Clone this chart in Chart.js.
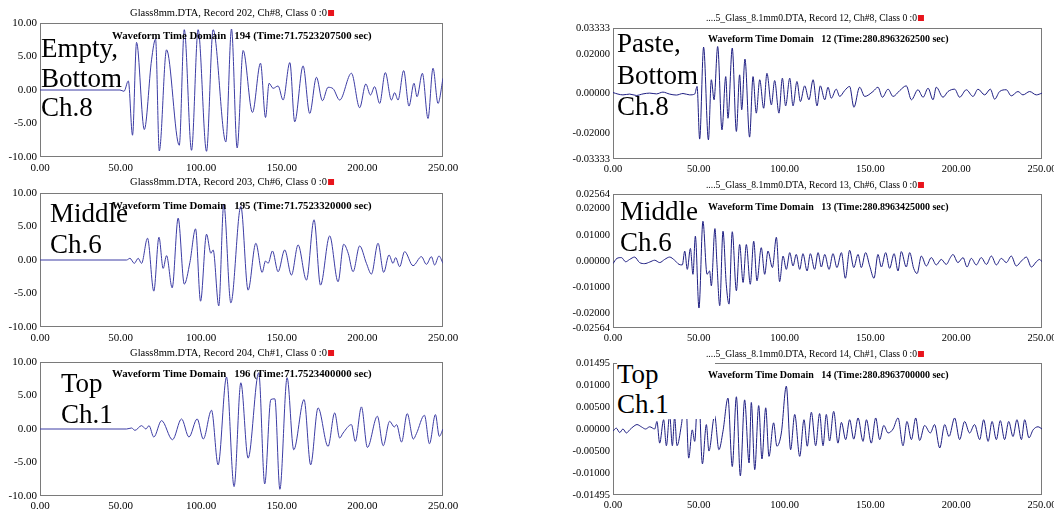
<!DOCTYPE html>
<html>
<head>
<meta charset="utf-8">
<script src="https://cdn.jsdelivr.net/npm/chart.js@4.4.1/dist/chart.umd.min.js"></script>
<style>
body{margin:0;background:#fff;width:1054px;height:512px;overflow:hidden;position:relative;font-family:"Liberation Serif","Times New Roman",serif;color:#000}
.cv{position:absolute}
.ttl{position:absolute;font-size:11px;line-height:12px;white-space:nowrap;transform:translateX(-50%)}
.ttl span{display:inline-block;width:6px;height:6px;background:#e8141c;margin-left:1px;vertical-align:0px}
.wf{position:absolute;font-weight:bold;font-size:10.5px;line-height:12px;white-space:pre}
.big{position:absolute;font-size:27px;white-space:nowrap}
</style>
</head>
<body>
<script>
// x ticks (time) shared by all six panels
var xTicks = [0, 50, 100, 150, 200, 250];
var yTicksL = [-10, -5, 0, 5, 10];
var yTicks4 = [-0.03333, -0.02, 0, 0.02, 0.03333];
var yTicks5 = [-0.02564, -0.02, -0.01, 0, 0.01, 0.02, 0.02564];
var yTicks6 = [-0.01495, -0.01, -0.005, 0, 0.005, 0.01, 0.01495];

var titles = [
  "Glass8mm.DTA, Record 202, Ch#8, Class 0 :0",
  "Glass8mm.DTA, Record 203, Ch#6, Class 0 :0",
  "Glass8mm.DTA, Record 204, Ch#1, Class 0 :0",
  "....5_Glass_8.1mm0.DTA, Record 12, Ch#8, Class 0 :0",
  "....5_Glass_8.1mm0.DTA, Record 13, Ch#6, Class 0 :0",
  "....5_Glass_8.1mm0.DTA, Record 14, Ch#1, Class 0 :0"
];
var domains = [
  "Waveform Time Domain   194 (Time:71.7523207500 sec)",
  "Waveform Time Domain   195 (Time:71.7523320000 sec)",
  "Waveform Time Domain   196 (Time:71.7523400000 sec)",
  "Waveform Time Domain   12 (Time:280.8963262500 sec)",
  "Waveform Time Domain   13 (Time:280.8963425000 sec)",
  "Waveform Time Domain   14 (Time:280.8963700000 sec)"
];
var labels = [
  ["Empty,", "Bottom", "Ch.8"],
  ["Middle", "Ch.6"],
  ["Top", "Ch.1"],
  ["Paste,", "Bottom", "Ch.8"],
  ["Middle", "Ch.6"],
  ["Top", "Ch.1"]
];

// waveforms, [time, amplitude]
var wave1 = [[0,0],[49.6,0],[52.1,-0.2],[54.8,1.35],[57.4,-6.75],[59.9,7.1],[64.7,-5.9],[69.2,4.5],[71.7,7.6],[74.0,-9.1],[78.5,6.0],[86.4,-8.25],[89.5,9.0],[94.0,-9.0],[98.1,9.0],[103.3,-9.15],[107.4,9.0],[115.3,-7.75],[118.8,9.1],[122.3,-8.65],[126.0,5.9],[131.8,-3.35],[136.8,4.0],[139.9,-4.1],[142.1,1.0],[144.6,0.25],[147.7,0.6],[150.8,-1.5],[155.0,4.1],[158.0,-4.75],[163.2,3.6],[167.3,-3.5],[171.5,1.9],[175.2,-1.6],[178.7,0.4],[181.8,0.2],[185.9,-1.5],[193.2,2.5],[198.3,-2.65],[202.1,0.9],[205.0,-0.75],[207.6,0.5],[210.7,-2.0],[214.2,2.6],[218.0,-1.5],[220.0,-0.4],[222.1,-1.5],[225.6,2.9],[228.9,-2.4],[232.0,1.0],[233.9,-1.0],[237.2,2.5],[240.7,-4.25],[243.8,3.25],[246.9,-2.0],[250,1.75]];

var wave2 = [[0,0],[53.7,0],[55.8,0.25],[58.5,-0.5],[60.9,0.25],[63.0,-0.5],[66.7,3.25],[70.6,-4.65],[73.8,3.4],[76.4,-1.25],[78.5,0.65],[82.0,-4.15],[85.7,6.25],[89.5,-3.6],[93.0,-0.35],[96.5,4.65],[99.6,-6.15],[103.3,3.85],[106.0,1.0],[107.4,1.5],[110.9,-6.85],[114.0,8.35],[118.4,-6.4],[124.6,8.0],[129.1,-4.5],[133.9,2.5],[137.8,-1.85],[139.9,-0.15],[141.5,-0.5],[144.2,1.35],[147.7,-1.75],[151.8,1.5],[156.0,-2.25],[160.1,2.25],[165.3,-3.0],[170.0,6.0],[174.0,-3.75],[179.7,3.6],[184.9,-3.25],[188.4,2.35],[191.2,1.0],[194.2,-1.75],[198.3,2.1],[202.5,-0.5],[205.6,-2.1],[209.7,2.5],[213.2,-1.85],[216.5,0.75],[219.0,-0.5],[220.6,0.35],[223.1,-1.0],[226.2,1.25],[231.4,-0.85],[236.6,0.5],[239.7,-0.65],[242.8,0.5],[244.8,-0.75],[247.5,0.6],[250,-0.5]];

var wave3 = [[0,0],[53.7,0],[56.8,0.15],[58.9,-0.2],[63.0,0.5],[65.7,0],[67.6,0.5],[70.6,-1.2],[75.4,1.25],[82.2,-1.6],[87.8,1.5],[92.4,-1.2],[97.5,1.5],[101.3,-1.5],[106.4,2.8],[110.5,-5.35],[115.7,7.75],[120.4,-8.6],[124.6,6.9],[129.1,-4.35],[135.7,8.4],[139.4,-8.2],[143.2,4.4],[145.7,4.5],[148.8,-9.0],[153.3,7.65],[157.4,-3.1],[163.8,4.4],[167.9,-5.35],[172.5,3.15],[178.7,-2.6],[182.8,2.4],[185.9,-1.35],[188.0,-0.6],[193.2,0.65],[195.6,-1.85],[199.4,3.3],[203.1,-2.75],[209.3,1.9],[212.9,-2.5],[216.9,1.15],[219.8,0.3],[221.2,0.65],[224.3,-1.95],[227.8,2.3],[231.6,-1.5],[233.5,-0.7],[238.5,2.05],[241.6,-2.2],[245.3,2.15],[247.7,-1.1],[250,0]];

var wave4 = [[0,0.0005],[2.9,-0.0003],[5.8,-0.0007],[9.7,-0.0003],[13.6,-0.001],[17.5,-0.0002],[21.4,0.0002],[25.3,-0.0002],[29.1,0.0007],[33.0,-0.0003],[36.9,-0.0008],[40.8,0],[44.7,-0.0007],[47.6,-0.0003],[49.0,0.0036],[50.5,-0.0232],[52.8,0.0236],[55.6,-0.0236],[57.3,0.007],[58.9,-0.0032],[61.0,0.0239],[63.5,-0.0185],[65.7,0.0086],[67.0,-0.0126],[69.5,0.0231],[71.9,-0.0193],[73.8,0.0095],[75.0,-0.0083],[76.9,0.0175],[79.6,-0.0222],[81.6,0.0086],[83.5,-0.01],[85.5,0.007],[87.8,-0.0075],[89.7,0.0103],[92.3,-0.0058],[94.2,0.0066],[96.7,-0.01],[98.7,0.0078],[100.6,-0.0063],[103.0,0.0078],[104.9,-0.0063],[107.2,0.0061],[109.2,-0.0041],[111.7,0.0039],[114.2,-0.0032],[116.6,0.007],[118.9,-0.0063],[120.8,0.0039],[123.4,-0.0032],[125.3,0.0032],[127.2,-0.0024],[130.1,0.0022],[132.1,-0.0015],[135.0,0.0015],[137.9,0.0036],[140.4,-0.007],[143.7,0.0032],[146.7,-0.0015],[151.5,0.001],[154.4,0.0032],[157.0,-0.0019],[160.3,0.0022],[163.2,-0.0015],[167.1,0.0015],[170.9,0.0039],[173.9,-0.0032],[177.7,0.0019],[180.7,-0.0019],[183.6,0.0027],[186.5,-0.0032],[188.4,0.0032],[192.3,-0.0019],[195.2,0.001],[199.1,0.0022],[202.0,-0.0019],[205.9,0.0019],[209.8,-0.0015],[212.7,0.0022],[216.6,-0.0007],[219.9,0.0022],[222.4,-0.0029],[225.3,0.001],[229.2,0.0019],[232.1,-0.0012],[236.0,0.001],[238.9,-0.0007],[242.8,0.001],[246.7,-0.0007],[250,0.0002]];

var wave5 = [[0,-0.001],[2.3,0.001],[4.9,0.0013],[7.4,-0.0003],[9.7,0.0006],[12.6,0.0015],[15.5,-0.0006],[18.5,-0.001],[21.4,-0.0004],[24.3,0.0003],[27.2,-0.0006],[30.1,0.0006],[33.0,0.0015],[35.9,0.0003],[38.5,-0.0013],[40.4,-0.0015],[41.8,0.0038],[43.3,-0.0032],[45.1,0.0048],[46.6,-0.0051],[48.0,0.0095],[50.1,-0.018],[52.4,0.0152],[54.8,-0.0051],[56.3,-0.0038],[57.3,-0.0095],[59.4,0.0124],[60.6,-0.0013],[62.2,-0.0171],[64.1,0.0114],[66.0,-0.0089],[67.6,-0.0165],[69.5,0.0112],[71.9,-0.0114],[73.8,0.0063],[75.8,-0.0082],[77.7,0.0063],[80.0,-0.0089],[82.0,0.0076],[83.9,-0.0076],[86.4,0.0051],[88.4,-0.0051],[90.3,0.0038],[92.9,-0.0025],[95.2,0.0091],[97.1,-0.0079],[99.1,0.0019],[101.0,-0.0032],[103.0,0.0032],[104.9,-0.0019],[106.8,0.0025],[108.8,-0.0032],[110.7,0.0028],[113.1,-0.0038],[115.0,0.0028],[117.5,-0.0032],[119.5,0.0032],[121.4,-0.0023],[123.4,0.0025],[125.9,-0.0032],[128.2,0.0028],[130.5,-0.0025],[133.1,0.0032],[135.4,-0.0066],[137.9,0.0041],[140.3,-0.0025],[142.8,0.0025],[144.7,-0.0025],[147.2,0.0032],[149.6,-0.0019],[152.1,-0.0066],[154.4,0.0025],[156.4,-0.0023],[158.9,0.0032],[161.2,-0.0028],[163.8,0.0028],[166.1,-0.0038],[168.0,0.0036],[170.9,-0.0023],[172.9,0.0032],[175.2,-0.0028],[177.2,-0.0048],[179.7,0.0019],[182.6,-0.0019],[185.5,0.0013],[188.4,-0.0015],[191.3,0.0006],[194.2,-0.0013],[196.6,0.0013],[198.1,0.0025],[201.0,-0.0006],[204.0,0.0013],[206.3,-0.0023],[208.8,0.001],[211.7,-0.0015],[214.6,0.0013],[217.6,-0.0013],[220.5,0.0019],[223.4,-0.0015],[226.3,0.001],[229.2,-0.0006],[232.1,0.0019],[235.0,-0.0019],[238.0,0],[240.9,0.0015],[243.8,-0.0023],[246.7,-0.0003],[248.6,0.0006],[250,-0.0003]];

var wave6 = [[0,-0.0005],[1.9,0.0002],[3.9,-0.0008],[5.8,0],[7.8,-0.0009],[9.7,-0.0002],[11.7,0.0005],[14.0,0.001],[16.5,0.0005],[19.0,0],[21.4,0.0005],[24.3,0],[25.6,0.0017],[27.2,-0.0032],[29.5,0.0021],[31.1,-0.0038],[33.0,0.0032],[34.6,-0.0038],[35.9,0.0027],[37.3,-0.0038],[39.8,0.0008],[42.3,0.0079],[44.1,-0.0066],[46.2,-0.0002],[47.6,-0.0028],[49.7,0.0104],[52.1,-0.0079],[54.4,0.001],[55.9,-0.005],[59.2,0.003],[61.7,-0.0047],[64.1,-0.0005],[67.0,0.007],[69.5,-0.0085],[71.9,0.0073],[74.2,-0.0106],[76.7,0.0066],[79.3,-0.0077],[80.6,0.006],[82.6,-0.0092],[84.9,0.0053],[86.8,-0.0068],[89.0,0.0048],[90.9,-0.0062],[93.6,0.0014],[95.5,-0.0039],[98.1,-0.0009],[101.0,0.0097],[103.5,-0.0047],[105.9,0.0033],[108.8,-0.0062],[111.3,0.0021],[113.2,-0.0039],[115.6,0.0038],[118.1,-0.0038],[120.4,0.0035],[122.4,-0.0038],[124.3,0.0033],[126.2,-0.0027],[128.6,0.004],[131.1,-0.0032],[133.1,0.0015],[135.6,-0.0024],[137.9,0.0021],[140.3,-0.0023],[142.8,0.0025],[145.7,-0.0028],[147.7,0.0021],[150.5,-0.0032],[153.1,0.0025],[155.4,-0.0024],[157.8,0.0008],[160.3,-0.0009],[163.2,0],[166.1,0.0025],[169.0,-0.0038],[171.3,0.0017],[173.9,-0.0024],[176.4,0.0025],[178.7,-0.0026],[181.6,0.0008],[184.9,-0.0009],[187.4,0.001],[190.4,-0.0043],[193.3,0.001],[195.8,-0.0017],[199.1,0.0025],[202.0,-0.0024],[204.9,0.0017],[207.8,-0.0009],[210.7,0.001],[213.7,-0.0024],[216.0,0.0021],[218.6,-0.0028],[220.9,0.0017],[223.4,-0.0024],[225.7,0.0019],[228.2,-0.0024],[230.6,0.0017],[233.1,-0.0017],[235.4,0.0021],[238.0,-0.0024],[239.9,0.0021],[242.4,-0.002],[244.8,-0.0002],[247.7,0.0005],[250,0]];

// layout of each panel on the page (plot area box)
var panels = [
  {wave: wave1, ticks: yTicksL, dec: 2, left: 40, right: 443, top: 23, bottom: 157, yW: 40, color: '#3c3ca4', titleX: 232, titleY: 13, tfs: 10.5, wfX: 112, wfY: 35, wfs: 10.8, fs: 11, xpad: 5, lab: {x: 41, y: 34, lh: 29.5}},
  {wave: wave2, ticks: yTicksL, dec: 2, left: 40, right: 443, top: 193, bottom: 327, yW: 40, color: '#3c3ca4', titleX: 232, titleY: 182, tfs: 10.5, wfX: 112, wfY: 205, wfs: 10.8, fs: 11, xpad: 5, lab: {x: 50, y: 198, lh: 31}},
  {wave: wave3, ticks: yTicksL, dec: 2, left: 40, right: 443, top: 362, bottom: 496, yW: 40, color: '#3c3ca4', titleX: 232, titleY: 353, tfs: 10.5, wfX: 112, wfY: 373, wfs: 10.8, fs: 11, xpad: 4, lab: {x: 61, y: 368, lh: 31}},
  {wave: wave4, ticks: yTicks4, dec: 5, left: 613, right: 1042, top: 28, bottom: 159, yW: 53, color: '#1e1e82', titleX: 815, titleY: 18, tfs: 9.6, wfX: 708, wfY: 39, wfs: 10, fs: 10.5, xpad: 4, lab: {x: 617, y: 28, lh: 31.5}},
  {wave: wave5, ticks: yTicks5, dec: 5, left: 613, right: 1042, top: 194, bottom: 328, yW: 53, color: '#1e1e82', titleX: 815, titleY: 185, tfs: 9.6, wfX: 708, wfY: 207, wfs: 10, fs: 10.5, xpad: 4, lab: {x: 620, y: 196, lh: 31}},
  {wave: wave6, ticks: yTicks6, dec: 5, left: 613, right: 1042, top: 363, bottom: 495, yW: 53, color: '#1e1e82', titleX: 815, titleY: 354, tfs: 9.6, wfX: 708, wfY: 375, wfs: 10, fs: 10.5, xpad: 4, lab: {x: 617, y: 359, lh: 30, w: 98}, white: true}
];

var PAD_T = 8, PAD_R = 24, X_H = 20;
var FONT = '"Liberation Serif", "Times New Roman", serif';

var frame = {
  id: 'frame',
  beforeDatasetsDraw: function(c) {
    var a = c.chartArea, ctx = c.ctx;
    ctx.save();
    ctx.strokeStyle = '#7a7a7a';
    ctx.lineWidth = 1;
    ctx.strokeRect(Math.round(a.left) + 0.5, Math.round(a.top) + 0.5, Math.round(a.right - a.left) - 1, Math.round(a.bottom - a.top) - 1);
    ctx.restore();
  }
};

function addDiv(cls, x, y, html, extra) {
  var d = document.createElement('div');
  d.className = cls;
  d.style.left = x + 'px';
  d.style.top = y + 'px';
  d.innerHTML = html;
  if (extra) for (var k in extra) d.style[k] = extra[k];
  document.body.appendChild(d);
  return d;
}

function makePanel(p, i) {
  var cv = document.createElement('canvas');
  var w = p.yW + (p.right - p.left) + PAD_R;
  var h = PAD_T + (p.bottom - p.top) + X_H;
  cv.width = w; cv.height = h;
  cv.className = 'cv';
  cv.style.left = (p.left - p.yW) + 'px';
  cv.style.top = (p.top - PAD_T) + 'px';
  document.body.appendChild(cv);

  var pts = p.wave.map(function(d) { return {x: d[0], y: d[1]}; });
  var yt = p.ticks;

  new Chart(cv.getContext('2d'), {
    type: 'line',
    data: {datasets: [{data: pts, borderColor: p.color, borderWidth: 1, pointRadius: 0, cubicInterpolationMode: 'monotone', fill: false}]},
    options: {
      responsive: false, animation: false, events: [],
      layout: {padding: {top: PAD_T, right: PAD_R, left: 0, bottom: 0}},
      plugins: {legend: {display: false}, tooltip: {enabled: false}},
      scales: {
        x: {
          type: 'linear', min: 0, max: 250,
          grid: {display: false, drawTicks: false}, border: {display: false},
          ticks: {padding: p.xpad, color: '#000', font: {family: FONT, size: p.fs}, maxRotation: 0, autoSkip: false,
            callback: function(v) { return v.toFixed(2); }},
          afterBuildTicks: function(s) { s.ticks = xTicks.map(function(v) { return {value: v}; }); },
          afterFit: function(s) { s.height = X_H; s.paddingLeft = 0; s.paddingRight = 0; }
        },
        y: {
          type: 'linear', min: yt[0], max: yt[yt.length - 1],
          grid: {display: false, drawTicks: false}, border: {display: false},
          ticks: {padding: 3, color: '#000', font: {family: FONT, size: p.fs}, autoSkip: false,
            callback: function(v) { return v.toFixed(p.dec); }},
          afterBuildTicks: function(s) { s.ticks = yt.map(function(v) { return {value: v}; }); },
          afterFit: function(s) { s.width = p.yW; s.paddingTop = 0; s.paddingBottom = 0; }
        }
      }
    },
    plugins: [frame]
  });

  // big label first, so the title and the bold line stay on top of its white box
  var lab = addDiv('big', p.lab.x, p.lab.y, labels[i].join('<br>'), {lineHeight: p.lab.lh + 'px'});
  if (p.white) {
    lab.style.background = '#fff';
    lab.style.width = p.lab.w + 'px';
  }
  addDiv('ttl', p.titleX, p.titleY - 6, titles[i] + '<span></span>', {fontSize: p.tfs + 'px'});
  addDiv('wf', p.wfX, p.wfY - 6, domains[i], {fontSize: p.wfs + 'px'});
}

panels.forEach(makePanel);
</script>
</body>
</html>
